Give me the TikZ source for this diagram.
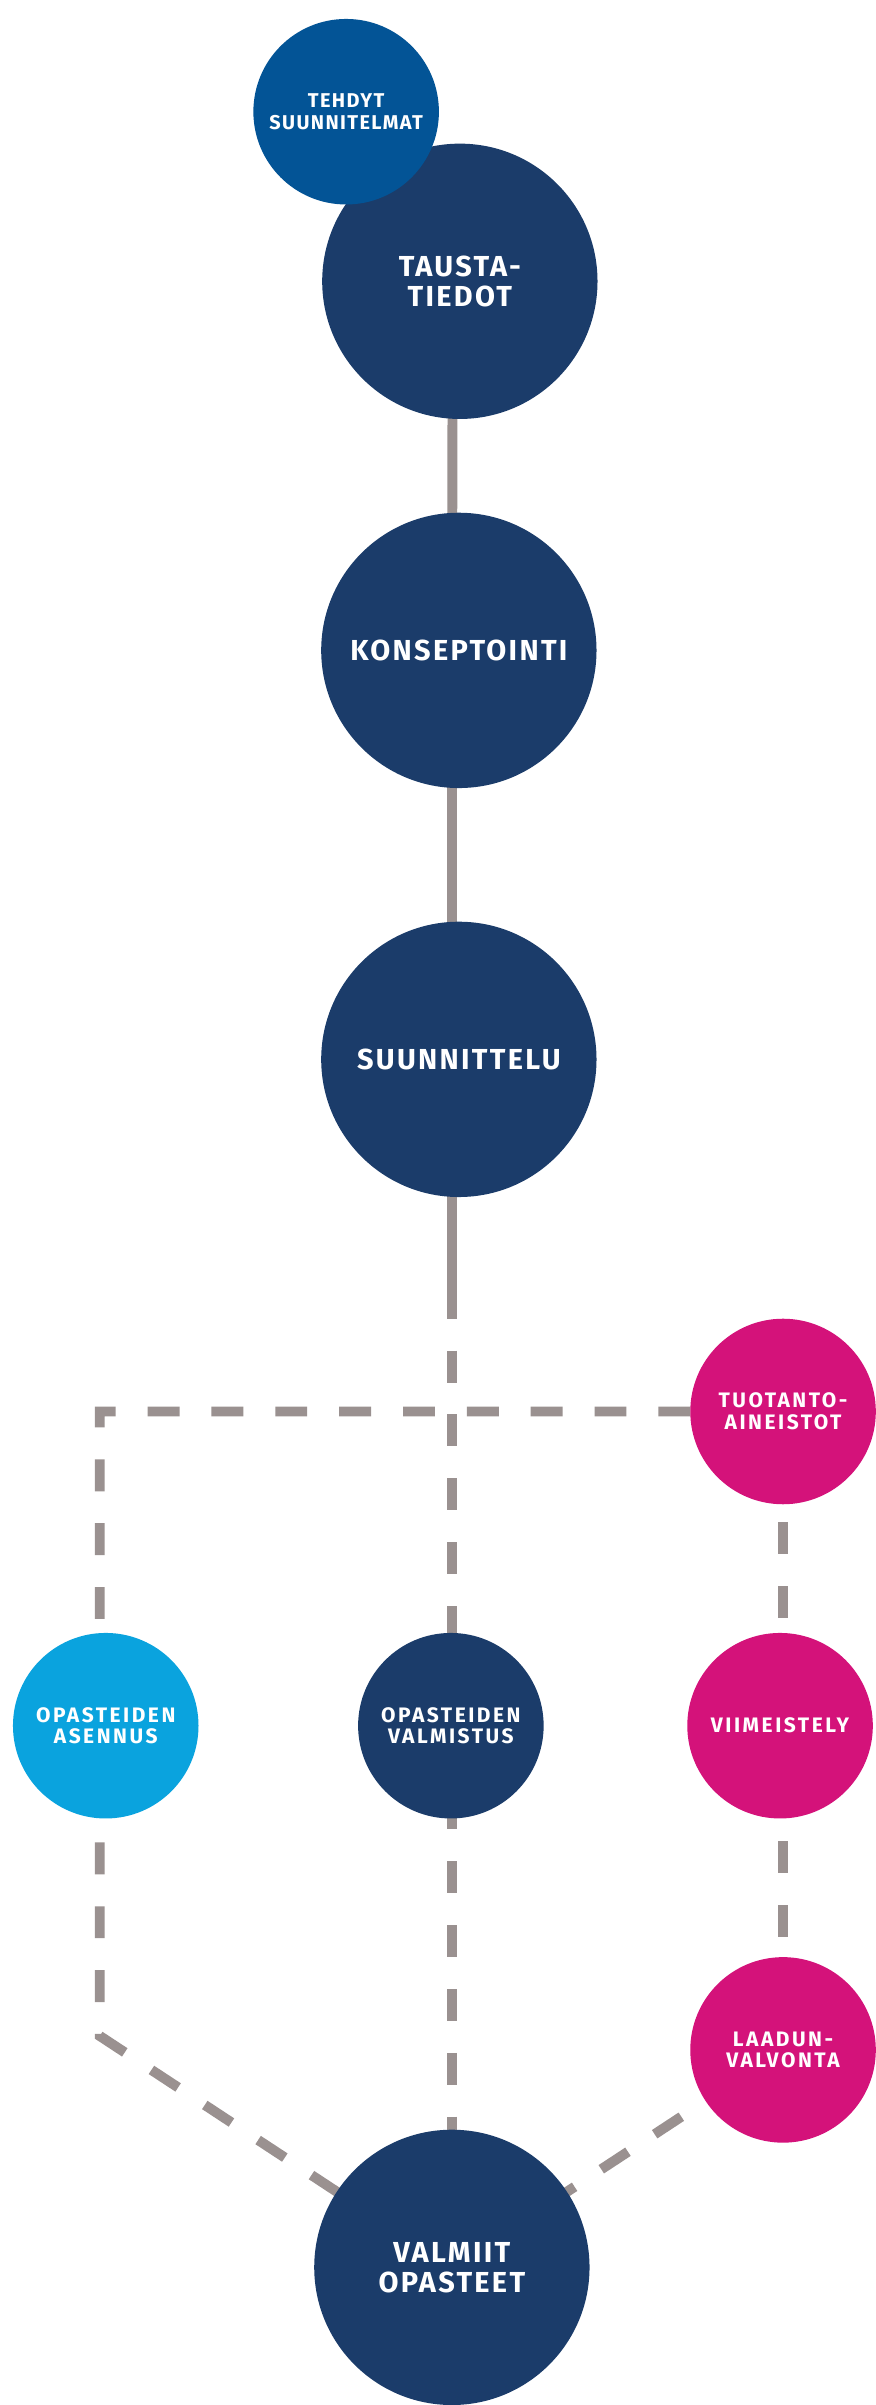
\documentclass[tikz,border=0pt]{standalone}
\usepackage{fontspec}
\newfontfamily\labelfont{Fira Sans}[LetterSpace=8]
\newfontfamily\smalllabelfont{Fira Sans}[LetterSpace=12]
\newfontfamily\tinylabelfont{Fira Sans}[LetterSpace=7]
\usetikzlibrary{positioning,backgrounds}
\definecolor{navy}{RGB}{27,60,106}
\definecolor{steel}{RGB}{3,84,150}
\definecolor{rose}{RGB}{212,18,122}
\definecolor{sky}{RGB}{10,163,222}
\definecolor{wire}{RGB}{154,145,144}
\begin{document}
\begin{tikzpicture}[x=1pt, y=-1pt,
    big/.style = {circle, fill=navy, minimum size=276pt, inner sep=0pt, text=white, align=center,
      font=\labelfont\bfseries\fontsize{29}{30}\selectfont},
    small/.style = {circle, minimum size=186pt, inner sep=0pt, text=white, align=center,
      font=\smalllabelfont\bfseries\fontsize{21}{22}\selectfont},
    link/.style = {wire, line width=10pt},
    dashlink/.style = {link, dash pattern=on 32pt off 32pt}]
  \begin{scope}[on background layer]
    \path[use as bounding box, fill=white] (0,0) rectangle (870,2405);
  \end{scope}
  % main column
  \node[big] (tausta) at (461,282) {TAUSTA-\\TIEDOT};
  \node[small, fill=steel, font=\tinylabelfont\bfseries\fontsize{20}{22}\selectfont] (tehdyt) at (347,112) {TEHDYT\\SUUNNITELMAT};
  \node[big] (konsept) at (460,652) {KONSEPTOINTI};
  \node[big] (suunn) at (460,1062) {SUUNNITTELU};
  % production row
  \node[small, fill=rose] (tuotanto) at (785,1415) {TUOTANTO-\\AINEISTOT};
  \node[small, fill=sky] (asennus) at (106,1730) {OPASTEIDEN\\ASENNUS};
  \node[small, fill=navy] (valmistus) at (452,1730) {OPASTEIDEN\\VALMISTUS};
  \node[small, fill=rose] (viimeistely) at (782,1730) {VIIMEISTELY};
  \node[small, fill=rose] (laadun) at (785,2055) {LAADUN-\\VALVONTA};
  \node[big] (valmiit) at (453,2273) {VALMIIT\\OPASTEET};
  \coordinate (split) at (453,1290);
  \coordinate (cornerA) at (100,1415);
  \coordinate (cornerB) at (100,2041);
  \begin{scope}[on background layer]
    \draw[link] ([xshift=-7pt]tausta.center) -- ([xshift=-7pt]konsept.center);
    \draw[link] ([xshift=-7pt]konsept.center) -- ([xshift=-7pt]suunn.center);
    \draw[link] ([xshift=-7pt]suunn.center) -- (split);
    \draw[dashlink] (split) -- (valmiit.center);
    \draw[dashlink, dash phase=35pt] (tuotanto.center) -- (cornerA) -- (cornerB) -- (valmiit.center);
    \draw[dashlink, dash phase=17pt] (tuotanto.center) -- (laadun.center);
    \draw[dashlink, dash phase=6pt] (laadun.center) -- (valmiit.center);
  \end{scope}
\end{tikzpicture}
\end{document}
